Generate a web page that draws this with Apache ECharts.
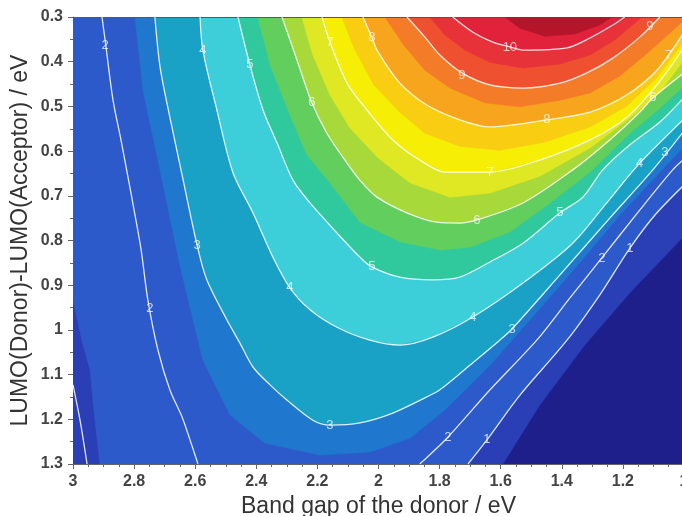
<!DOCTYPE html>
<html>
<head>
<meta charset="utf-8">
<script src="https://cdn.jsdelivr.net/npm/echarts@6/dist/echarts.min.js"></script>
<style>
  html, body { margin: 0; padding: 0; background: #fff; }
  #chart { width: 682px; height: 516px; }
</style>
</head>
<body>
<div id="chart"></div>
<script>
// contour lines: [band gap (eV), LUMO offset (eV)]
var c1Left = [[3.0,1.123],[2.977,1.202],[2.954,1.3]];
var c1Right = [[1.707,1.3],[1.645,1.246],[1.537,1.146],[1.383,1.023],[1.276,0.922],[1.177,0.817],[1.095,0.743],[1.0,0.676]];
var c2Left = [[2.905,0.3],[2.892,0.367],[2.869,0.486],[2.843,0.575],[2.823,0.647],[2.800,0.732],[2.777,0.821],[2.755,0.933],[2.722,1.045],[2.683,1.134],[2.643,1.195],[2.617,1.246],[2.591,1.3]];
var c2Right = [[1.865,1.3],[1.773,1.240],[1.635,1.134],[1.482,1.023],[1.374,0.929],[1.269,0.839],[1.145,0.732],[1.037,0.642],[1.0,0.618]];
var c3 = [[2.732,0.3],[2.715,0.412],[2.683,0.524],[2.643,0.653],[2.594,0.810],[2.562,0.888],[2.496,0.978],[2.454,1.029],[2.411,1.083],[2.355,1.123],[2.300,1.157],[2.215,1.202],[2.159,1.213],[2.061,1.208],[1.953,1.186],[1.842,1.150],[1.799,1.134],[1.701,1.079],[1.603,1.023],[1.563,0.998],[1.406,0.877],[1.243,0.750],[1.102,0.642],[1.0,0.555]];
var c4 = [[2.584,0.3],[2.575,0.374],[2.529,0.508],[2.476,0.649],[2.411,0.738],[2.346,0.837],[2.290,0.906],[2.224,0.955],[2.136,0.994],[2.028,1.023],[1.930,1.034],[1.822,1.016],[1.691,0.971],[1.527,0.895],[1.364,0.806],[1.259,0.721],[1.145,0.627],[1.0,0.528]];
var c5 = [[2.460,0.3],[2.421,0.407],[2.378,0.508],[2.332,0.582],[2.280,0.665],[2.224,0.716],[2.136,0.783],[2.061,0.837],[2.022,0.859],[1.930,0.882],[1.822,0.888],[1.734,0.882],[1.635,0.848],[1.527,0.806],[1.406,0.738],[1.331,0.703],[1.266,0.642],[1.177,0.586],[1.079,0.535],[1.0,0.480]];
var c6 = [[2.316,0.3],[2.267,0.396],[2.218,0.492],[2.169,0.560],[2.103,0.627],[2.061,0.665],[2.005,0.703],[1.907,0.738],[1.809,0.759],[1.734,0.761],[1.678,0.754],[1.527,0.716],[1.364,0.642],[1.243,0.575],[1.145,0.513],[1.102,0.481],[1.0,0.425]];
var c7 = [[2.185,0.3],[2.159,0.356],[2.103,0.448],[2.038,0.508],[1.953,0.575],[1.865,0.620],[1.783,0.647],[1.635,0.647],[1.472,0.620],[1.308,0.575],[1.187,0.524],[1.089,0.452],[1.0,0.368]];
var c8 = [[2.051,0.3],[2.022,0.345],[2.005,0.374],[1.930,0.448],[1.842,0.497],[1.734,0.530],[1.635,0.546],[1.449,0.530],[1.308,0.513],[1.187,0.474],[1.089,0.419],[1.0,0.334]];
var c9 = [[1.907,0.3],[1.848,0.345],[1.799,0.385],[1.727,0.425],[1.635,0.452],[1.527,0.459],[1.406,0.448],[1.318,0.425],[1.233,0.392],[1.145,0.345],[1.079,0.3]];
var c10 = [[1.757,0.3],[1.691,0.334],[1.626,0.356],[1.570,0.367],[1.527,0.374],[1.383,0.369],[1.308,0.347],[1.233,0.318],[1.194,0.3]];

// edges of the colour bands that do not sit on a white line
var navyEdge = [[1.593,1.3],[1.472,1.168],[1.325,1.034],[1.177,0.917],[1.0,0.79]];
var stripEdge = [[3.0,0.933],[2.971,1.023],[2.944,1.090],[2.928,1.202],[2.912,1.3]];
var midEdge = [[2.797,0.3],[2.771,0.463],[2.715,0.642],[2.650,0.855],[2.575,1.067],[2.486,1.190],[2.372,1.253],[2.192,1.280],[2.028,1.273],[1.897,1.242],[1.783,1.179],[1.635,1.079],[1.505,0.978],[1.357,0.862],[1.210,0.743],[1.079,0.647],[1.0,0.59]];
var h55 = [[2.395,0.3],[2.355,0.407],[2.290,0.519],[2.234,0.609],[2.159,0.671],[2.061,0.759],[1.930,0.803],[1.799,0.821],[1.701,0.815],[1.570,0.781],[1.439,0.716],[1.308,0.647],[1.177,0.560],[1.079,0.504],[1.0,0.454]];
var h65 = [[2.251,0.3],[2.215,0.385],[2.159,0.474],[2.094,0.548],[2.002,0.615],[1.897,0.671],[1.766,0.703],[1.635,0.694],[1.472,0.656],[1.308,0.593],[1.177,0.526],[1.079,0.468],[1.0,0.396]];
var h75 = [[2.120,0.3],[2.077,0.374],[2.015,0.452],[1.930,0.513],[1.848,0.560],[1.734,0.589],[1.603,0.598],[1.456,0.580],[1.308,0.546],[1.187,0.499],[1.089,0.436],[1.0,0.354]];
var h85 = [[1.979,0.3],[1.917,0.363],[1.848,0.419],[1.766,0.459],[1.652,0.492],[1.537,0.501],[1.406,0.486],[1.308,0.470],[1.210,0.432],[1.112,0.376],[1.046,0.336],[1.0,0.307]];
var h95 = [[1.832,0.3],[1.783,0.340],[1.717,0.374],[1.635,0.401],[1.527,0.414],[1.406,0.405],[1.308,0.385],[1.226,0.351],[1.138,0.3]];
var peak = [[1.586,0.3],[1.537,0.325],[1.456,0.343],[1.357,0.338],[1.276,0.318],[1.236,0.3]];

// contour labels: [x, y, text]
var labels = [
  [2.895,0.363,'2'],[2.748,0.951,'2'],[1.773,1.240,'2'],[1.269,0.839,'2'],
  [1.645,1.246,'1'],[1.177,0.817,'1'],
  [2.594,0.810,'3'],[2.159,1.213,'3'],[1.563,0.998,'3'],[1.063,0.602,'3'],
  [2.575,0.374,'4'],[2.290,0.906,'4'],[1.691,0.971,'4'],[1.145,0.627,'4'],
  [2.421,0.407,'5'],[2.022,0.859,'5'],[1.406,0.738,'5'],
  [2.218,0.492,'6'],[1.678,0.754,'6'],[1.102,0.481,'6'],
  [2.159,0.356,'7'],[1.635,0.647,'7'],[1.050,0.385,'7'],
  [2.022,0.345,'8'],[1.449,0.530,'8'],
  [1.727,0.430,'9'],[1.112,0.322,'9'],
  [1.570,0.367,'10']
];

var X_LEFT = 3.0, X_RIGHT = 1.0, Y_TOP = 0.3, Y_BOTTOM = 1.3;

var bands = [
  { pts: navyEdge, color: '#2a3eb5' },
  { pts: stripEdge.concat(c1Right), color: '#2d5acb' },
  { pts: midEdge, color: '#1f78cd' },
  { pts: c3, color: '#19a2c6' },
  { pts: c4, color: '#3dcfd9' },
  { pts: c5, color: '#30c99d' },
  { pts: h55, color: '#62ce5e' },
  { pts: c6, color: '#a8d93b' },
  { pts: h65, color: '#dfe823' },
  { pts: c7, color: '#f6ee05' },
  { pts: h75, color: '#f9cd12' },
  { pts: c8, color: '#f8a51e' },
  { pts: h85, color: '#f47b27' },
  { pts: c9, color: '#ee5030' },
  { pts: h95, color: '#e8323a' },
  { pts: c10, color: '#e1223a' },
  { pts: peak, color: '#b5152b' }
];

var lines = [c1Left, c1Right, c2Left, c2Right, c3, c4, c5, c6, c7, c8, c9, c10];

var chart = echarts.init(document.getElementById('chart'));

function bandSeries(band) {
  return {
    type: 'custom',
    silent: true,
    clip: true,
    data: band.pts,
    renderItem: function (params, api) {
      if (params.dataIndex !== 0) return null;
      var p = band.pts.slice();
      var first = p[0], last = p[p.length - 1];
      p.push([X_RIGHT, last[1]], [X_RIGHT, Y_TOP], [X_LEFT, Y_TOP], [X_LEFT, first[1]]);
      return {
        type: 'polygon',
        shape: { points: p.map(function (d) { return api.coord(d); }) },
        style: { fill: band.color, stroke: band.color, lineWidth: 0.6 }
      };
    }
  };
}

var series = [];
bands.forEach(function (b) { series.push(bandSeries(b)); });
lines.forEach(function (l) {
  series.push({
    type: 'line',
    data: l,
    smooth: 0.3,
    symbol: 'none',
    silent: true,
    clip: true,
    lineStyle: { color: 'rgba(255,255,255,0.85)', width: 1.3 }
  });
});
series.push({
  type: 'scatter',
  data: labels,
  symbolSize: 1,
  silent: true,
  itemStyle: { color: 'transparent' },
  label: {
    show: true,
    position: 'inside',
    formatter: function (p) { return p.data[2]; },
    color: 'rgba(255,255,255,0.9)',
    fontSize: 13,
    fontFamily: 'Liberation Sans'
  }
});

chart.setOption({
  animation: false,
  backgroundColor: '#fff',
  grid: {
    left: 73, top: 17, right: -2, bottom: 52,
    outerBoundsMode: 'none',
    show: true, backgroundColor: '#1f1f8b', borderWidth: 0
  },
  xAxis: {
    type: 'value',
    inverse: true,
    min: X_RIGHT,
    max: X_LEFT,
    interval: 0.2,
    name: 'Band gap of the donor / eV',
    nameLocation: 'middle',
    nameGap: 31,
    nameMoveOverlap: false,
    nameTextStyle: { color: '#333', fontSize: 23, fontFamily: 'Liberation Sans' },
    axisLine: { show: true, onZero: false, lineStyle: { color: '#666', width: 1 } },
    axisTick: { show: true, length: 5, lineStyle: { color: '#666' } },
    minorTick: { show: true, splitNumber: 4, length: 3, lineStyle: { color: '#666' } },
    splitLine: { show: false },
    axisLabel: { color: '#444', fontSize: 16, fontWeight: 'bold', fontFamily: 'Liberation Sans', margin: 10 }
  },
  yAxis: {
    type: 'value',
    inverse: true,
    min: Y_TOP,
    max: Y_BOTTOM,
    interval: 0.1,
    name: 'LUMO(Donor)-LUMO(Acceptor) / eV',
    nameLocation: 'middle',
    nameGap: 41,
    nameMoveOverlap: false,
    nameTextStyle: { color: '#333', fontSize: 23, fontFamily: 'Liberation Sans' },
    axisLine: { show: true, onZero: false, lineStyle: { color: '#666', width: 1 } },
    axisTick: { show: true, length: 5, lineStyle: { color: '#666' } },
    minorTick: { show: true, splitNumber: 2, length: 3, lineStyle: { color: '#666' } },
    splitLine: { show: false },
    axisLabel: { color: '#444', fontSize: 16, fontWeight: 'bold', fontFamily: 'Liberation Sans', margin: 10 }
  },
  series: series
});
</script>
</body>
</html>
